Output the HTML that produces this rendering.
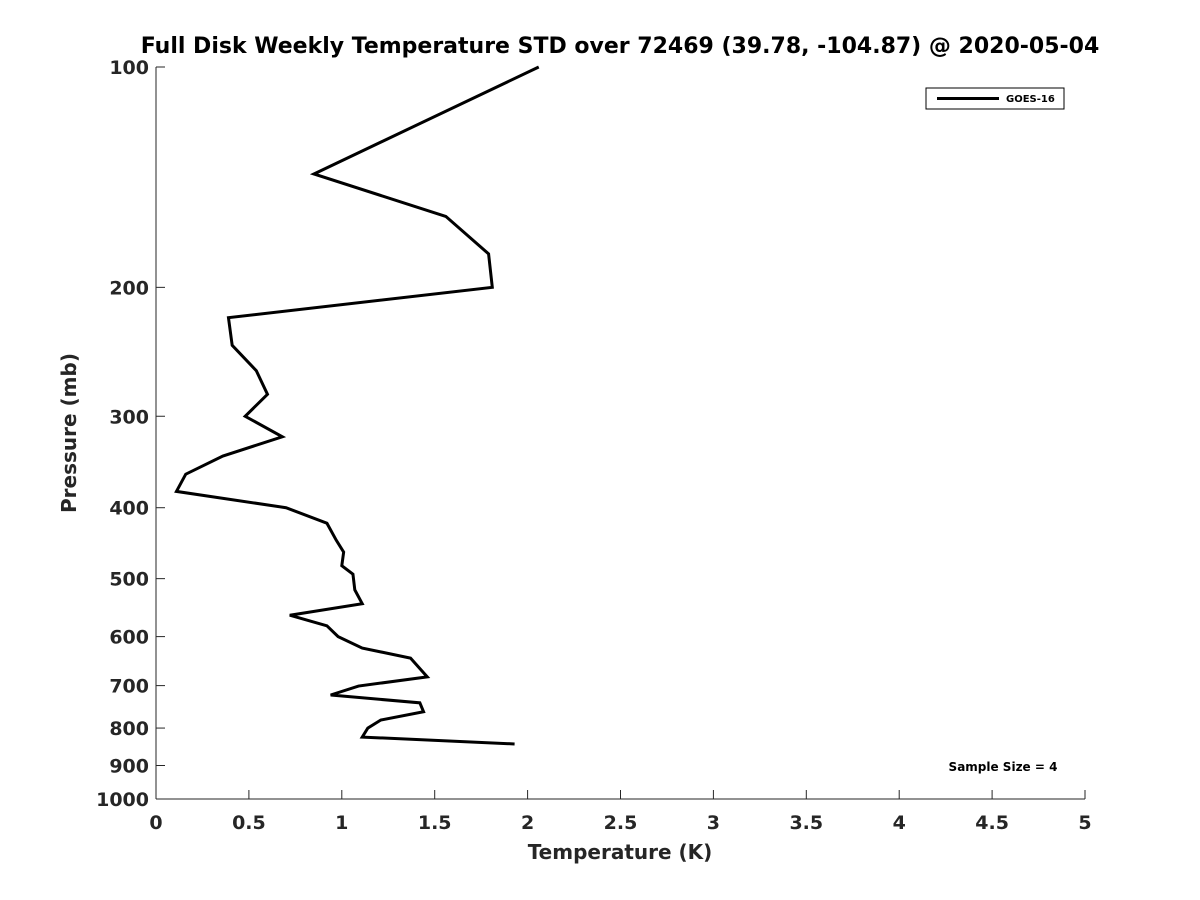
<!DOCTYPE html>
<html><head><meta charset="utf-8"><style>
body{margin:0;background:#fff;}
svg{display:block;font-family:"DejaVu Sans","Liberation Sans",sans-serif;font-weight:bold;}
</style></head><body>
<svg id="c" width="1200" height="900">
<text x="620" y="53" text-anchor="middle" font-size="22" fill="#000">Full Disk Weekly Temperature STD over 72469 (39.78, -104.87) @ 2020-05-04</text>
<g id="axes"></g>
<text x="620" y="859" text-anchor="middle" font-size="20" fill="#262626">Temperature (K)</text>
<text transform="translate(76,433) rotate(-90)" text-anchor="middle" font-size="20" fill="#262626">Pressure (mb)</text>
<g>
<rect x="926" y="88" width="138" height="21" fill="#fff" stroke="#000" stroke-width="1"/>
<line x1="937" y1="98.5" x2="999" y2="98.5" stroke="#000" stroke-width="3"/>
<text x="1006" y="102" font-size="10" fill="#000">GOES-16</text>
</g>
<text x="1003" y="771" text-anchor="middle" font-size="12" fill="#000">Sample Size = 4</text>
</svg>
<script>
const temps=[2.06,0.85,1.56,1.79,1.81,0.39,0.41,0.54,0.60,0.48,0.68,0.36,0.16,0.11,0.70,0.92,0.97,1.01,1.00,1.06,1.07,1.11,0.72,0.92,0.98,1.11,1.37,1.46,1.09,0.94,1.42,1.44,1.21,1.14,1.11,1.93];
const pressures=[100,140,160,180,200,220,240,260,280,300,320,340,360,380,400,420,443,460,480,493,518,541,561,580,600,622,642,681,701,721,739,760,780,800,823,841];
const xTicks=[0,0.5,1,1.5,2,2.5,3,3.5,4,4.5,5];
const yTicks=[100,200,300,400,500,600,700,800,900,1000];
const X0=156,X1=1085,Y0=67,Y1=799;
const xs=v=>X0+(v/5)*(X1-X0);
const ys=p=>Y0+(Math.log10(p)-2)*(Y1-Y0);
const NS="http://www.w3.org/2000/svg";
const g=document.getElementById('axes');
function mk(t,a){const e=document.createElementNS(NS,t);for(const k in a)e.setAttribute(k,a[k]);g.appendChild(e);return e;}
const xa=mk('line',{x1:X0,y1:Y1,x2:X1,y2:Y1,stroke:'#262626'});


const ya=mk('line',{x1:X0,y1:Y0,x2:X0,y2:Y1,stroke:'#262626'});


xTicks.forEach(v=>{
 const t=mk('line',{x1:xs(v),y1:Y1,x2:xs(v),y2:Y1-9,stroke:'#262626'});
 
 
 const l=mk('text',{x:xs(v),y:Y1+30,'text-anchor':'middle','font-size':19,fill:'#262626'});
 l.textContent=String(v);
 
 
});
yTicks.forEach(p=>{
 const t=mk('line',{x1:X0,y1:ys(p),x2:X0+9,y2:ys(p),stroke:'#262626'});
 
 
 const l=mk('text',{x:X0-7,y:ys(p)+7,'text-anchor':'end','font-size':19,fill:'#262626'});
 l.textContent=String(p);
 
 
});
const pts=temps.map((t,i)=>xs(t)+','+ys(pressures[i])).join(' ');
const line=mk('polyline',{points:pts,fill:'none',stroke:'#000','stroke-width':3,'stroke-linejoin':'miter'});


</script>
</body></html>
